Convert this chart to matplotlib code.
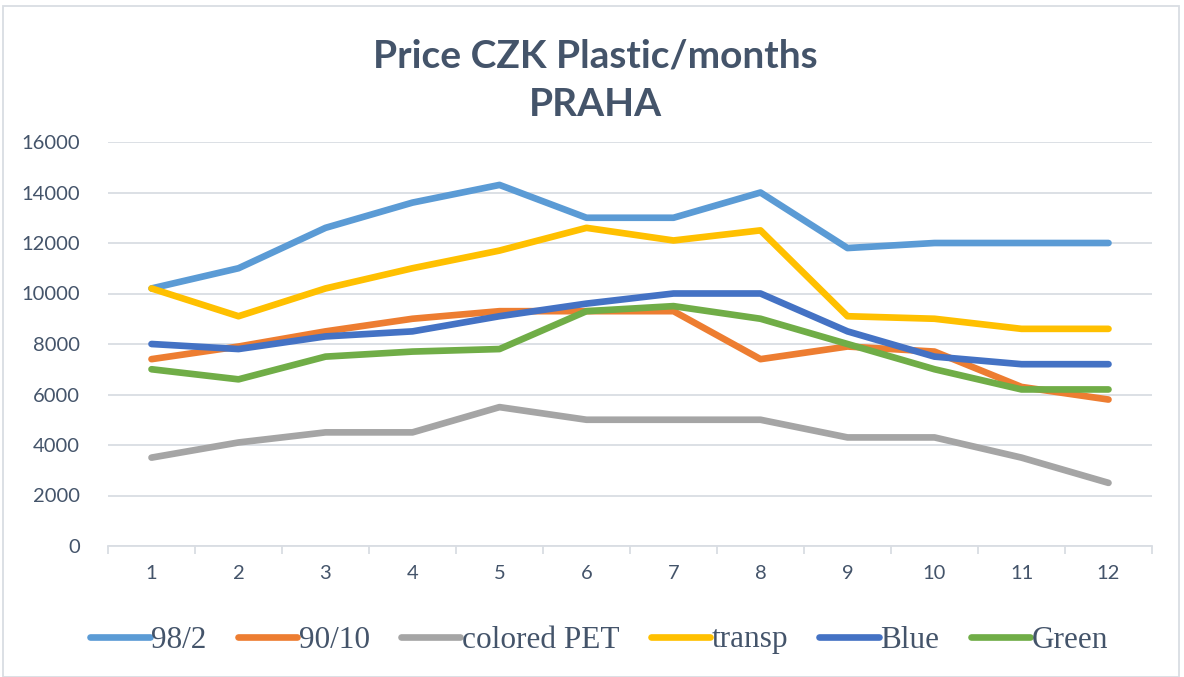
import matplotlib
matplotlib.use("Agg")
import matplotlib.pyplot as plt
from matplotlib.ticker import FixedLocator, NullFormatter

months = list(range(1, 13))
series_names = ["98/2", "90/10", "colored PET", "transp", "Blue", "Green"]
v_98_2 = [10200, 11000, 12600, 13600, 14300, 13000, 13000, 14000, 11800, 12000, 12000, 12000]
v_90_10 = [7400, 7900, 8500, 9000, 9300, 9300, 9300, 7400, 7900, 7700, 6300, 5800]
v_colored = [3500, 4100, 4500, 4500, 5500, 5000, 5000, 5000, 4300, 4300, 3500, 2500]
v_transp = [10200, 9100, 10200, 11000, 11700, 12600, 12100, 12500, 9100, 9000, 8600, 8600]
v_blue = [8000, 7800, 8300, 8500, 9100, 9600, 10000, 10000, 8500, 7500, 7200, 7200]
v_green = [7000, 6600, 7500, 7700, 7800, 9300, 9500, 9000, 8000, 7000, 6200, 6200]
y_ticks = [0, 2000, 4000, 6000, 8000, 10000, 12000, 14000, 16000]

colors = ["#5B9BD5", "#ED7D31", "#A5A5A5", "#FFC000", "#4472C4", "#70AD47"]
text_col = "#44546A"
grid_col = "#D9DDE3"

fig = plt.figure(figsize=(11.84, 6.77), dpi=100)
ax = fig.add_axes([108/1184, 1-546/677, (1152-108)/1184, (546-142)/677])

all_vals = [v_98_2, v_90_10, v_colored, v_transp, v_blue, v_green]
for name, vals, c in zip(series_names, all_vals, colors):
    ax.plot(months, vals, color=c, lw=4.8, solid_capstyle="round",
            solid_joinstyle="round", label=name)

ax.set_xlim(0.5, 12.5)
ax.set_ylim(0, 16000)
ax.set_yticks(y_ticks)
ax.set_xticks(months)
ax.xaxis.set_minor_locator(FixedLocator([m - 0.5 for m in months] + [12.5]))
ax.xaxis.set_minor_formatter(NullFormatter())
ax.tick_params(axis="x", which="major", length=0, pad=14)
ax.tick_params(axis="x", which="minor", length=6, color=grid_col, width=1.3)
ax.tick_params(axis="y", length=0, pad=20)
for lab in ax.get_xticklabels() + ax.get_yticklabels():
    lab.set_fontfamily("Lato")
    lab.set_fontsize(14.5)
    lab.set_color(text_col)

ax.grid(axis="y", color=grid_col, lw=1.3)
ax.set_axisbelow(True)
for s in ["top", "right", "left"]:
    ax.spines[s].set_visible(False)
ax.spines["bottom"].set_color(grid_col)
ax.spines["bottom"].set_linewidth(1.3)

fig.text(0.503, 1-80/677, "Price CZK Plastic/months\nPRAHA", ha="center", va="center",
         fontsize=28, fontweight="bold", fontfamily="Lato", color=text_col,
         linespacing=1.45)

leg = fig.legend(loc="center", bbox_to_anchor=(0.506, 1-640/677), ncol=6, frameon=False,
                 prop={"family": "Liberation Serif", "size": 22.5},
                 handlelength=1.9, handletextpad=0.05, columnspacing=1.0)
for t in leg.get_texts():
    t.set_color(text_col)

border = plt.Rectangle((3/1184, 0), 1176/1184, 1-6/677, transform=fig.transFigure,
                       fill=False, edgecolor="#D9DDE3", lw=1.3)
fig.patches.append(border)

fig.savefig("out.png", dpi=100)
